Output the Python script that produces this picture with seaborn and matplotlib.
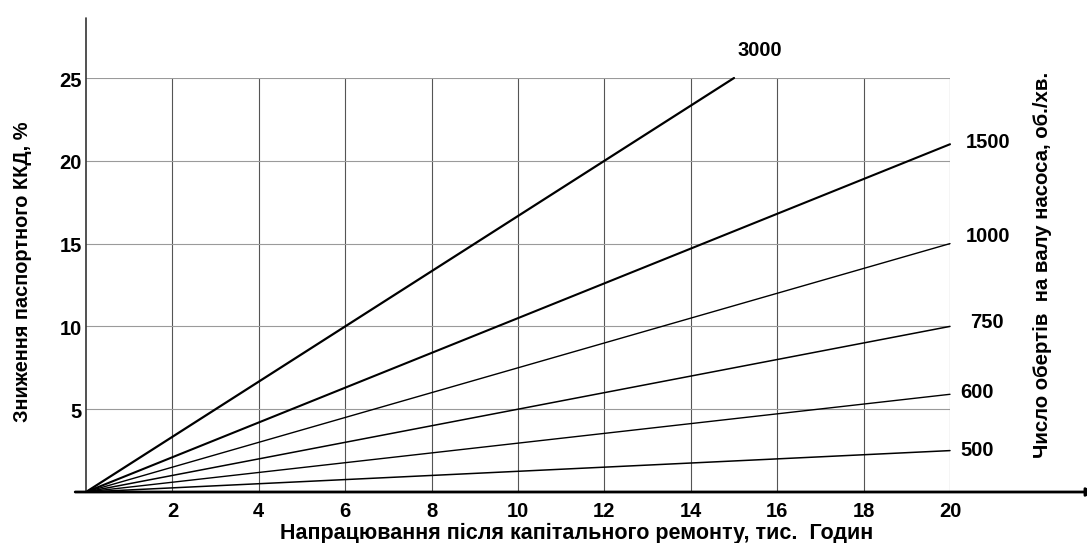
import matplotlib
matplotlib.use("Agg")
import matplotlib.pyplot as plt
import matplotlib.transforms as mtransforms
import seaborn as sns
import pandas as pd

sns.set_theme(style="white")
plt.rcParams['font.family'] = ['Liberation Sans', 'DejaVu Sans']
plt.rcParams['font.weight'] = 'bold'
for k in ['text.color', 'axes.labelcolor', 'xtick.color', 'ytick.color']:
    plt.rcParams[k] = 'black'

# ---- data ----
speeds = ["3000", "1500", "1000", "750", "600", "500"]
hours_start = [0, 0, 0, 0, 0, 0]
hours_end = [15, 20, 20, 20, 20, 20]
drop_start = [0, 0, 0, 0, 0, 0]
drop_end = [25, 21, 15, 10, 5.9, 2.5]
x_ticks = [2, 4, 6, 8, 10, 12, 14, 16, 18, 20]
y_ticks = [5, 10, 15, 20, 25]

line_widths = [1.6, 1.5, 1.0, 1.1, 1.0, 1.1]

rows = []
for s, x0, x1, y0, y1 in zip(speeds, hours_start, hours_end, drop_start, drop_end):
    rows.append({"speed": s, "hours": x0, "drop": y0})
    rows.append({"speed": s, "hours": x1, "drop": y1})
df = pd.DataFrame(rows)

W, H = 1087, 543
fig = plt.figure(figsize=(W / 100, H / 100), dpi=100)
ax = fig.add_axes([86 / W, (H - 492) / H, (950 - 86) / W, (492 - 78) / H])

for s, lw in zip(speeds, line_widths):
    sns.lineplot(data=df[df["speed"] == s], x="hours", y="drop", ax=ax,
                 color="black", linewidth=lw, legend=False, clip_on=False)

ax.set_xlim(0, 20)
ax.set_ylim(0, 25)
ax.set_xticks(x_ticks)
ax.set_yticks(y_ticks)
ax.set_xticklabels([str(v) for v in x_ticks], fontsize=14.5, fontweight='bold')
ax.set_yticklabels([str(v) for v in y_ticks], fontsize=14.5, fontweight='bold')
ax.tick_params(axis='x', length=0, pad=7)
ax.tick_params(axis='y', length=0, pad=3)
shift = mtransforms.ScaledTranslation(0, -3 / 100, fig.dpi_scale_trans)
for lab in ax.get_yticklabels():
    lab.set_va('center')
    lab.set_transform(lab.get_transform() + shift)
ax.grid(False)
for v in x_ticks:
    ax.axvline(v, color="#555555", linewidth=0.8, zorder=0)
for v in y_ticks:
    ax.axhline(v, color="#9a9a9a", linewidth=0.8, zorder=0)

for side in ["top", "right", "left", "bottom"]:
    ax.spines[side].set_visible(False)

# extended axis lines
ax.plot([0, 0], [0, 28.6], color="#333333", linewidth=1.2, clip_on=False, zorder=3)
ax.annotate("", xy=(23.35, 0), xytext=(-0.25, 0), xycoords="data",
            arrowprops=dict(arrowstyle="-|>", color="black", lw=2.0,
                            mutation_scale=12, shrinkA=0, shrinkB=0),
            annotation_clip=False)

ax.set_xlabel("Напрацювання після капітального ремонту, тис.  Годин",
              fontsize=15.5, fontweight='bold')
ax.xaxis.set_label_coords((577 - 86) / 864, (492 - 533) / 414)
ax.xaxis.label.set_va('center')
ax.set_ylabel("Зниження паспортного ККД, %", fontsize=14.4, fontweight='bold')
ax.yaxis.set_label_coords((23 - 86) / 864, (492 - 272) / 414)
ax.yaxis.label.set_va('center')

# line labels
label_pos = {"3000": (760, 50), "1500": (988, 143), "1000": (988, 237),
             "750": (987, 323), "600": (977, 393), "500": (977, 450)}
for s in speeds:
    px, py = label_pos[s]
    fig.text(px / W, 1 - py / H, s, fontsize=14.5, fontweight='bold',
             ha='center', va='center')

fig.text(1043 / W, 1 - 265 / H, "Число обертів  на валу насоса, об./хв.",
         rotation=90, fontsize=14.7, fontweight='bold', ha='center', va='center')

fig.savefig("out.png", dpi=100)
